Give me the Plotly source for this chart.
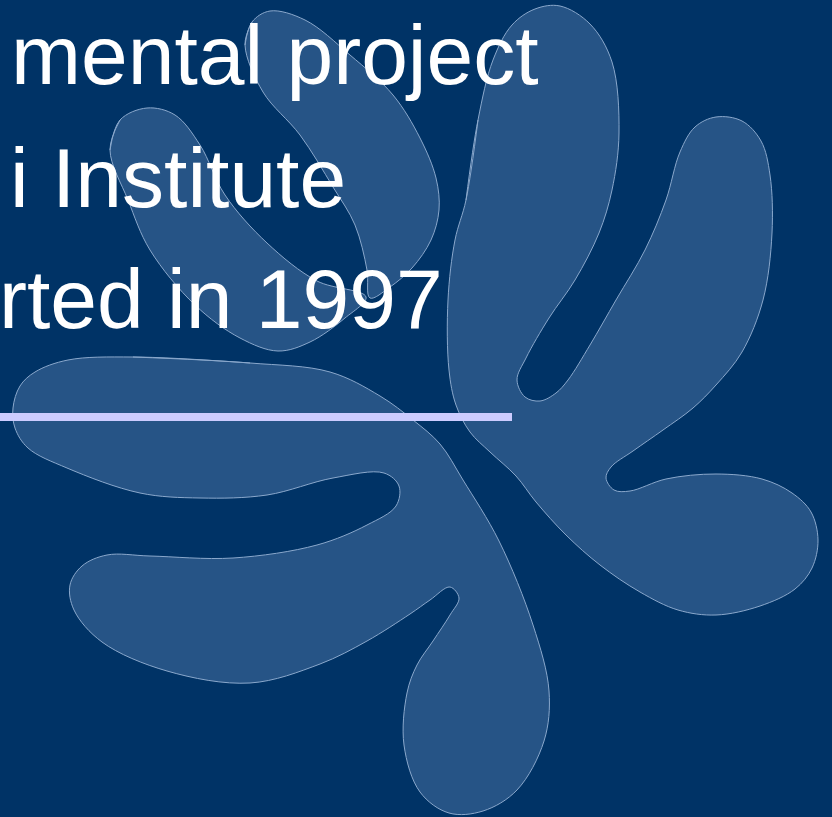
import plotly.graph_objects as go

# ---- content ----
text_lines = ["mental project", "i Institute", "rted in 1997"]
text_right_x = [541, 348, 445]
text_mid_y = [55, 178, 299]

rule_x = [0, 512]
rule_y = [417, 417]

# decorative leaf outline points (page pixels)
petal_inner = [(110, 150), (120, 120), (147, 108), (175, 115), (200, 145), (225, 195),
               (267, 243), (317, 281), (366, 297), (345, 318), (310, 342), (278, 351),
               (240, 338), (195, 305), (150, 250), (128, 200)]
petal_outer = [(245, 45), (252, 22), (270, 11), (305, 20), (350, 55), (393, 95),
               (420, 138), (436, 178), (439, 210), (431, 240), (412, 268), (390, 287),
               (370, 298), (367, 270), (355, 225), (333, 187), (300, 135), (263, 92)]
leaf_right = [(466, 200), (478, 120), (493, 60), (512, 25), (535, 9), (560, 6), (590, 24),
              (612, 62), (619, 133), (612, 190), (599, 233), (575, 280), (549, 318),
              (526, 358), (517, 380), (525, 397), (540, 401), (556, 393), (568, 380),
              (590, 345), (616, 300), (645, 250), (666, 200), (680, 152), (695, 127),
              (716, 117), (742, 121), (761, 141), (770, 175), (772, 233), (763, 300),
              (742, 352), (716, 385), (693, 408), (663, 430), (633, 451), (611, 467),
              (606, 478), (614, 490), (630, 491), (666, 479), (716, 474), (762, 479),
              (792, 493), (811, 512), (818, 540), (812, 568), (795, 589), (760, 606),
              (716, 615), (678, 610), (640, 592), (600, 565), (566, 535), (536, 502),
              (516, 476), (490, 452), (470, 432), (456, 405), (449, 370), (448, 300),
              (455, 240)]
leaf_left = [(133, 357), (250, 363), (330, 372), (380, 396), (413, 420), (440, 444),
             (463, 480), (499, 541), (533, 625), (549, 691), (544, 741), (517, 790),
             (483, 811), (449, 813), (420, 792), (404, 745), (407, 693), (417, 665),
             (433, 641), (450, 615), (459, 598), (450, 587), (430, 600), (410, 614),
             (367, 641), (320, 664), (250, 683), (167, 671), (102, 642), (74, 610),
             (70, 585), (82, 566), (107, 555), (150, 556), (233, 558), (317, 545),
             (367, 525), (396, 506), (399, 486), (384, 473), (333, 478), (267, 495),
             (200, 498), (140, 493), (67, 468), (28, 448), (15, 428), (13, 408),
             (20, 386), (35, 372), (68, 360)]

BG = "#003366"
LEAF = "#265486"
EDGE = "#8aa8cc"
RULE = "#ccccff"

fig = go.Figure()

for pts in [leaf_left, leaf_right, petal_inner, petal_outer]:
    closed = pts + [pts[0], pts[1]]
    fig.add_trace(go.Scatter(
        x=[p[0] for p in closed], y=[p[1] for p in closed],
        mode="lines", fill="toself", fillcolor=LEAF,
        line=dict(color=EDGE, width=1, shape="spline", smoothing=1.0),
        hoverinfo="skip", showlegend=False))

fig.add_trace(go.Scatter(x=rule_x, y=rule_y, mode="lines",
                         line=dict(color=RULE, width=8),
                         hoverinfo="skip", showlegend=False))

for t, xr, ym in zip(text_lines, text_right_x, text_mid_y):
    fig.add_annotation(x=xr, y=ym, xref="x", yref="y", text=t, showarrow=False,
                       xanchor="right", yanchor="middle",
                       font=dict(family="Liberation Sans, Arial, sans-serif",
                                 size=84, color="white"))

fig.update_layout(
    width=832, height=817, margin=dict(l=0, r=0, t=0, b=0),
    paper_bgcolor=BG, plot_bgcolor=BG,
    xaxis=dict(range=[0, 832], visible=False, fixedrange=True),
    yaxis=dict(range=[817, 0], visible=False, fixedrange=True),
    showlegend=False,
)

fig.write_html("out.html", config={"displayModeBar": False},
               post_script="document.body.style.margin='0';"
                           "document.body.style.background='#003366';")
